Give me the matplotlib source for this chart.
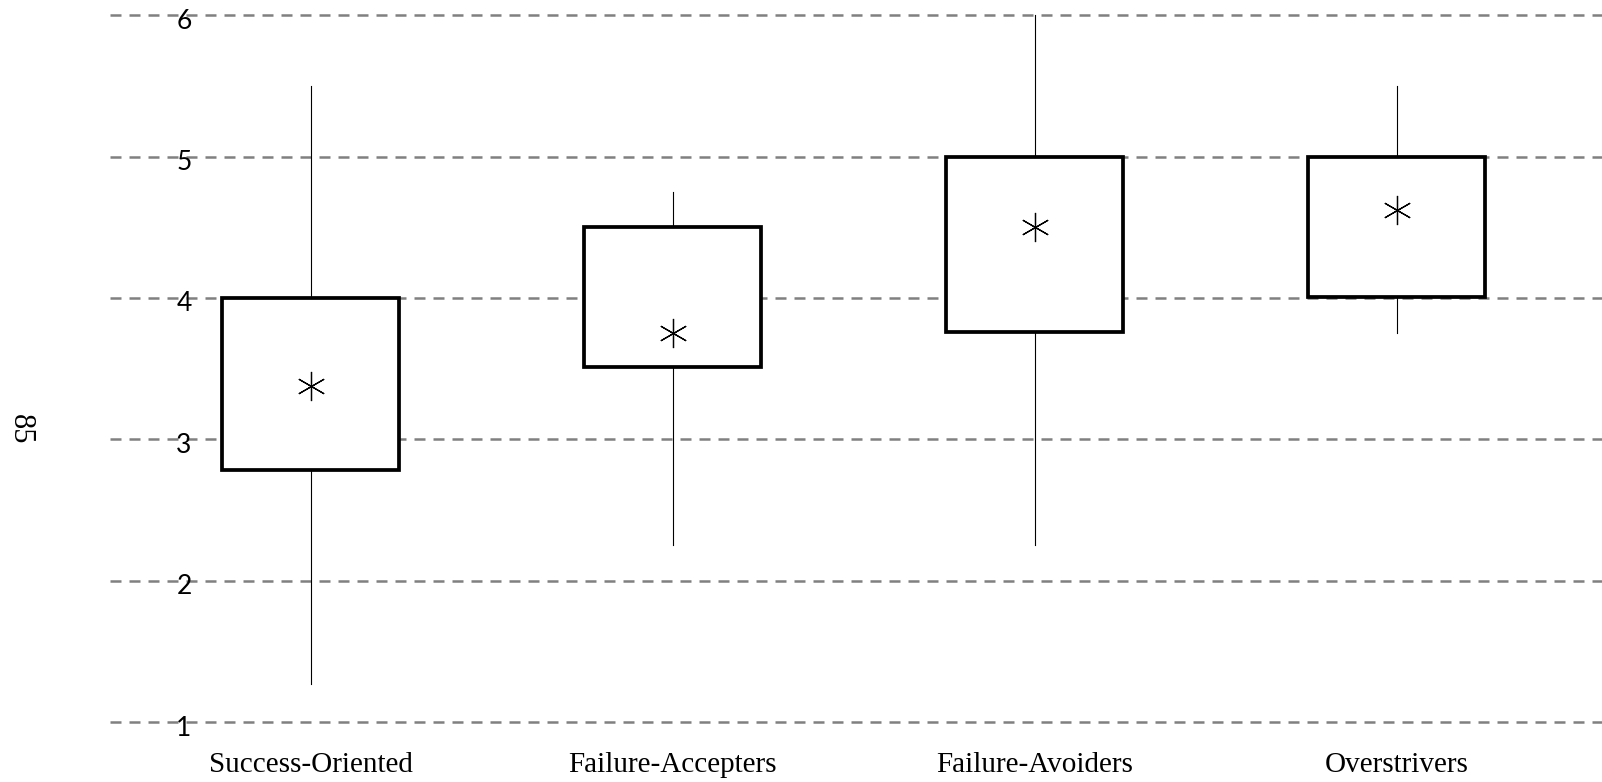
import matplotlib
matplotlib.use("Agg")
import matplotlib.pyplot as plt
import matplotlib.transforms as mtransforms

# Values
groups = ["Success-Oriented", "Failure-Accepters", "Failure-Avoiders", "Overstrivers"]
q1 = [2.78, 3.51, 3.76, 4.01]
q3 = [4.00, 4.50, 5.00, 5.00]
whislo = [1.27, 2.25, 2.25, 3.75]
whishi = [5.50, 4.75, 6.00, 5.50]
means = [3.38, 3.75, 4.50, 4.62]
yticks = [1, 2, 3, 4, 5, 6]
ylabel = "85"

W, H = 1602, 782
fig = plt.figure(figsize=(W / 100, H / 100), dpi=100)

# axes placed so that y=1 sits at 722px and y=6 at 15px from top
px_per_unit = (722 - 15.3) / 5
ylo, yhi = 0.95, 6.05
top_px = 15.3 - (yhi - 6) * px_per_unit
bot_px = 722 + (1 - ylo) * px_per_unit
left_px = 110
ax = fig.add_axes([left_px / W, 1 - bot_px / H, 1 - left_px / W, (bot_px - top_px) / H])

stats = []
for i in range(len(groups)):
    stats.append(dict(q1=q1[i], q3=q3[i], med=q1[i], whislo=whislo[i],
                      whishi=whishi[i], mean=means[i], fliers=[]))

pos = list(range(len(groups)))
ax.bxp(stats, positions=pos, widths=0.49, showcaps=False, showfliers=False,
       showmeans=True, patch_artist=True,
       boxprops=dict(facecolor="white", edgecolor="black", linewidth=2.7),
       whiskerprops=dict(color="black", linewidth=0.8),
       medianprops=dict(linewidth=0),
       meanprops=dict(marker=(6, 2, 0), markersize=21, markeredgecolor="black",
                      markeredgewidth=0.9, markerfacecolor="none"),
       zorder=3)

ax.set_xlim(-0.554, 3.567)
ax.set_ylim(ylo, yhi)
ax.set_yticks(yticks)
ax.set_yticklabels([])
ax.set_xticks(pos)
ax.set_xticklabels([])
ax.tick_params(length=0)
for s in ax.spines.values():
    s.set_visible(False)

ax.set_axisbelow(True)
ax.yaxis.grid(True, color="#808080", linewidth=1.8, linestyle=(0, (4.4, 3.2)))

# y tick labels sit over the grid lines, a little below centre
trans = mtransforms.blended_transform_factory(fig.transFigure, ax.transData)
shift = mtransforms.ScaledTranslation(0, -6 / 100, fig.dpi_scale_trans)
for v in yticks:
    ax.text(184 / W, v, str(v), transform=trans + shift, ha="center", va="center",
            fontsize=19, family="Lato", color="black", zorder=5)

# category labels
transx = mtransforms.blended_transform_factory(ax.transData, fig.transFigure)
for i, g in enumerate(groups):
    ax.text(pos[i], 1 - 765 / H, g, transform=transx, ha="center", va="center",
            fontsize=21, family="Liberation Serif", color="black")

fig.text(20 / W, 1 - 429 / H, ylabel, rotation=-90, ha="center", va="center",
         fontsize=22, family="Liberation Serif")

fig.savefig("out.png", dpi=100)
